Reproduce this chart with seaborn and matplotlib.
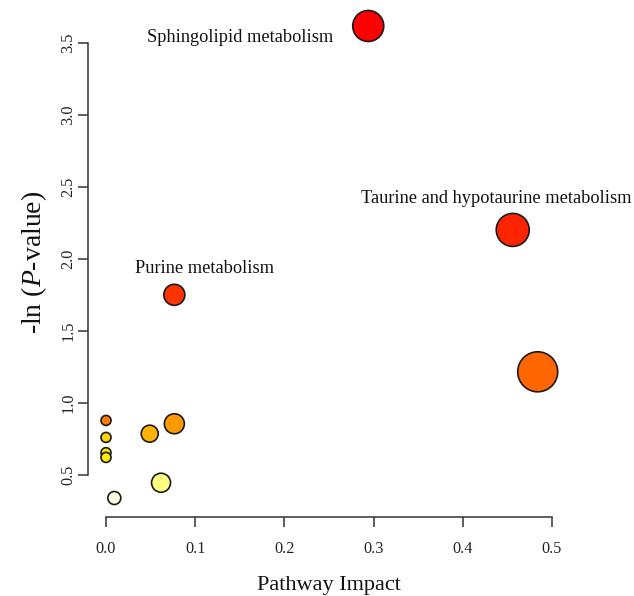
import matplotlib
matplotlib.use("Agg")
import matplotlib.pyplot as plt
import seaborn as sns
import pandas as pd

# ---- data ----
pathways = ["Sphingolipid metabolism", "Taurine and hypotaurine metabolism",
            "Purine metabolism", "Pathway 4", "Pathway 5", "Pathway 6",
            "Pathway 7", "Pathway 8", "Pathway 9", "Pathway 10",
            "Pathway 11", "Pathway 12"]
impact = [0.294, 0.456, 0.0766, 0.484, 0.0, 0.0766, 0.049, 0.0, 0.0, 0.0, 0.0617, 0.0093]
neglogp = [3.618, 2.201, 1.75, 1.215, 0.877, 0.854, 0.785, 0.759, 0.653, 0.62, 0.444, 0.338]
colors = ["#FF0000", "#FF2400", "#FF3300", "#FF6600", "#FF7F00", "#FF9900",
          "#FFB300", "#FFD500", "#FFE400", "#FFEE00", "#FFFF80", "#FFFFE0"]
diam_px = [31, 33, 21, 40, 10, 20, 17, 10, 10, 10, 19, 13]
labelled = ["Sphingolipid metabolism", "Taurine and hypotaurine metabolism", "Purine metabolism"]
label_offsets = [(-128, -12), (-16, 31), (30, 26)]  # text offset in pixels

xticks = [0.0, 0.1, 0.2, 0.3, 0.4, 0.5]
yticks = [0.5, 1.0, 1.5, 2.0, 2.5, 3.0, 3.5]

df = pd.DataFrame({"pathway": pathways, "impact": impact, "neglogp": neglogp})

sns.set_theme(style="white")
plt.rcParams["font.family"] = ["Liberation Serif", "DejaVu Serif"]
plt.rcParams["mathtext.fontset"] = "custom"
plt.rcParams["mathtext.rm"] = "Liberation Serif"
plt.rcParams["mathtext.it"] = "Liberation Serif:italic"

DPI = 100
fig = plt.figure(figsize=(6.34, 5.96), dpi=DPI)
ax = fig.add_axes([88 / 634, 79 / 596, 482 / 634, 510 / 596])

palette = dict(zip(pathways, colors))
sizes = {p: (d * 72 / DPI) ** 2 for p, d in zip(pathways, diam_px)}
sns.scatterplot(data=df, x="impact", y="neglogp", hue="pathway", palette=palette,
                size="pathway", sizes=sizes, edgecolor="#1a1a1a", linewidth=1.2,
                alpha=1, legend=False, ax=ax, zorder=3, clip_on=False)

for name, (dx, dy) in zip(labelled, label_offsets):
    row = df[df.pathway == name].iloc[0]
    ax.annotate(name, (row.impact, row.neglogp), xytext=(dx, dy),
                textcoords="offset pixels", ha="center", va="center",
                fontsize=13.2, color="#111111")

ax.set_xlim(-0.0202, 0.5202)
ax.set_ylim(0.206, 3.75)
ax.set_xticks(xticks)
ax.set_xticklabels([f"{v:.1f}" for v in xticks])
ax.set_yticks(yticks)
ax.set_yticklabels([f"{v:.1f}" for v in yticks], rotation=90, va="center")

for s in ["top", "right"]:
    ax.spines[s].set_visible(False)
for s in ["left", "bottom"]:
    ax.spines[s].set_color("#333333")
    ax.spines[s].set_linewidth(1.1)
ax.spines["left"].set_bounds(yticks[0], yticks[-1])
ax.spines["bottom"].set_bounds(xticks[0], xticks[-1])
ax.tick_params(axis="both", which="major", direction="out", length=7, width=1.1,
               color="#333333", labelsize=11.7, labelcolor="#222222",
               left=True, bottom=True)
ax.tick_params(axis="x", pad=10)
ax.tick_params(axis="y", pad=1.5)
ax.grid(False)

ax.set_xlabel("Pathway Impact", fontsize=16, color="#111111", labelpad=14)
ax.set_ylabel(r"-ln ($\mathit{P}$-value)", fontsize=20, color="#111111", labelpad=8)

fig.savefig("out.png", dpi=DPI, facecolor="white")
